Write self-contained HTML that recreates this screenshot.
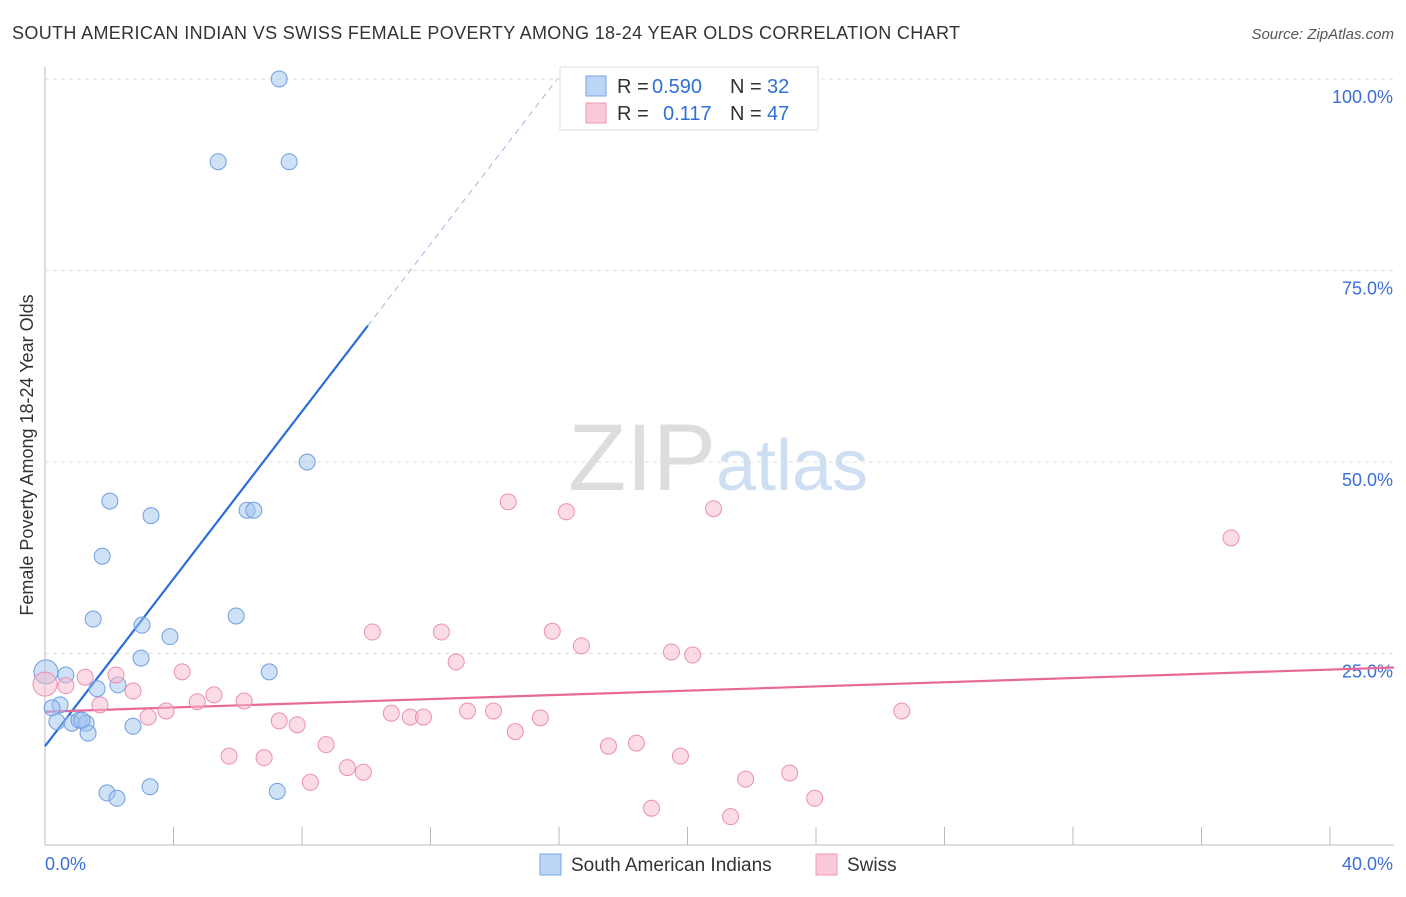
<!DOCTYPE html>
<html><head><meta charset="utf-8"><style>
body{margin:0;background:#fff;font-family:"Liberation Sans",sans-serif}
svg text{font-family:"Liberation Sans",sans-serif}
</style></head><body>
<svg width="1406" height="892" id="c">
<text x="12" y="39" font-size="18" fill="#333" textLength="948">SOUTH AMERICAN INDIAN VS SWISS FEMALE POVERTY AMONG 18-24 YEAR OLDS CORRELATION CHART</text>
<text x="1394" y="39" font-size="15" fill="#555" text-anchor="end" font-style="italic">Source: ZipAtlas.com</text>
<text x="716" y="490" font-size="95" fill="#ddd" text-anchor="end" font-family="Liberation Serif">ZIP</text>
<text x="716" y="490" font-size="72" fill="#cfdff3">atlas</text>
<text x="33" y="455" font-size="18" fill="#333" text-anchor="middle" transform="rotate(-90 33 455)">Female Poverty Among 18-24 Year Olds</text>
<g id="grid"></g><g id="lines"></g><g id="pts"></g>
<g>
<rect x="560" y="67" width="258" height="63" fill="#fff" stroke="#ddd"/>
<rect x="586" y="76" width="20" height="20" fill="#bcd4f5" stroke="#7aa6e6"/>
<rect x="586" y="103" width="20" height="20" fill="#fbc9d8" stroke="#ee9ab5"/>
<text x="617" y="93" font-size="20" fill="#333">R =</text>
<text x="652" y="93" font-size="20" fill="#2f6fd8">0.590</text>
<text x="730" y="93" font-size="20" fill="#333">N =</text>
<text x="767" y="93" font-size="20" fill="#2f6fd8">32</text>
<text x="617" y="120" font-size="20" fill="#333">R =</text>
<text x="663" y="120" font-size="20" fill="#2f6fd8">0.117</text>
<text x="730" y="120" font-size="20" fill="#333">N =</text>
<text x="767" y="120" font-size="20" fill="#2f6fd8">47</text>
</g>
<g>
<rect x="540" y="854" width="21" height="21" fill="#bcd4f5" stroke="#7aa6e6"/>
<text x="571" y="871" font-size="19" fill="#333">South American Indians</text>
<rect x="816" y="854" width="21" height="21" fill="#fbc9d8" stroke="#ee9ab5"/>
<text x="847" y="871" font-size="19" fill="#333">Swiss</text>
</g>
</svg>
<script>
const blueX=[7.29,5.39,7.6,8.16,2.02,3.3,6.29,6.5,1.78,1.5,5.95,3.02,3.89,2.99,0.03,0.65,6.98,2.27,1.62,0.47,0.22,0.37,0.84,1.06,1.28,1.34,2.74,1.93,2.24,3.27,7.23,1.15];
const blueY=[100,89.2,89.2,50,44.9,43,43.7,43.7,37.7,29.5,29.9,28.7,27.2,24.4,22.6,22.2,22.6,20.9,20.4,18.3,17.9,16.1,15.9,16.3,15.9,14.6,15.5,6.8,6.1,7.6,7.0,16.3];
const pinkX=[0,0.65,1.25,2.21,1.71,2.74,3.21,3.77,4.27,4.74,5.26,5.73,6.2,6.82,7.29,7.85,8.26,8.75,9.41,9.91,10.19,10.78,11.37,11.78,12.34,12.8,13.15,13.96,14.42,14.64,15.42,15.79,16.23,16.7,17.54,18.41,18.88,19.5,19.78,20.16,20.81,21.34,21.81,23.18,23.96,26.67,36.92];
const pinkY=[21,20.8,21.9,22.2,18.3,20.1,16.7,17.5,22.6,18.7,19.6,11.6,18.8,11.4,16.2,15.7,8.2,13.1,10.1,9.5,27.8,17.2,16.7,16.7,27.8,23.9,17.5,17.5,44.8,14.8,16.6,27.9,43.5,26,12.9,13.3,4.8,25.2,11.6,24.8,43.9,3.7,8.6,9.4,6.1,17.5,40.1];
const yTicks=[25,50,75,100];
const blueLine=[0,12.9,10.05,67.8];
const pinkLine=[0,17.4,40,22.9];
const X=v=>45+v*32.125, Y=v=>845-v*7.66;
const ns="http://www.w3.org/2000/svg";
function mk(p,t,a){const e=document.createElementNS(ns,t);for(const k in a)e.setAttribute(k,a[k]);document.getElementById(p).appendChild(e);return e;}
let e=mk('grid','line',{x1:45,y1:845,x2:1394,y2:845,stroke:'#bbb'});

e=mk('grid','line',{x1:45,y1:67,x2:45,y2:845,stroke:'#bbb'});

for(let i=1;i<=10;i++){e=mk('grid','line',{x1:X(i*4),y1:827,x2:X(i*4),y2:845,stroke:'#bbb'});
}
yTicks.forEach(t=>{e=mk('grid','line',{x1:45,y1:Y(t),x2:1394,y2:Y(t),stroke:'#ddd','stroke-dasharray':'4,4'});

e=mk('grid','text',{x:1393,y:Y(t)+24,'font-size':18,fill:'#3b6fd6','text-anchor':'end'});e.textContent=t.toFixed(1)+'%';
});
e=mk('grid','text',{x:45,y:870,'font-size':18,fill:'#3b6fd6'});e.textContent='0.0%';

e=mk('grid','text',{x:1393,y:870,'font-size':18,fill:'#3b6fd6','text-anchor':'end'});e.textContent='40.0%';

const bs=(blueLine[3]-blueLine[1])/(blueLine[2]-blueLine[0]);
e=mk('lines','line',{x1:X(blueLine[0]),y1:Y(blueLine[1]),x2:X(blueLine[2]),y2:Y(blueLine[3]),stroke:'#2a6fd8','stroke-width':2.2});

const xe=(100-blueLine[1])/bs;
e=mk('lines','line',{x1:X(blueLine[2]),y1:Y(blueLine[3]),x2:X(xe),y2:Y(100),stroke:'#9bb8e0','stroke-width':1,'stroke-dasharray':'6,5'});

const ps=(pinkLine[3]-pinkLine[1])/(pinkLine[2]-pinkLine[0]);
e=mk('lines','line',{x1:X(pinkLine[0]),y1:Y(pinkLine[1]),x2:1394,y2:Y(pinkLine[1]+ps*((1394-45)/32.125)),stroke:'#e8689a','stroke-width':2.2});

blueX.forEach((v,i)=>{e=mk('pts','circle',{cx:X(v),cy:Y(blueY[i]),r:i==14?12:8,fill:'rgba(160,195,240,0.5)',stroke:'#6f9fe0','stroke-width':1});
});
pinkX.forEach((v,i)=>{e=mk('pts','circle',{cx:X(v),cy:Y(pinkY[i]),r:i==0?12:8,fill:'rgba(248,185,205,0.5)',stroke:'#ec8fb0','stroke-width':1});
});
</script>
</body></html>
